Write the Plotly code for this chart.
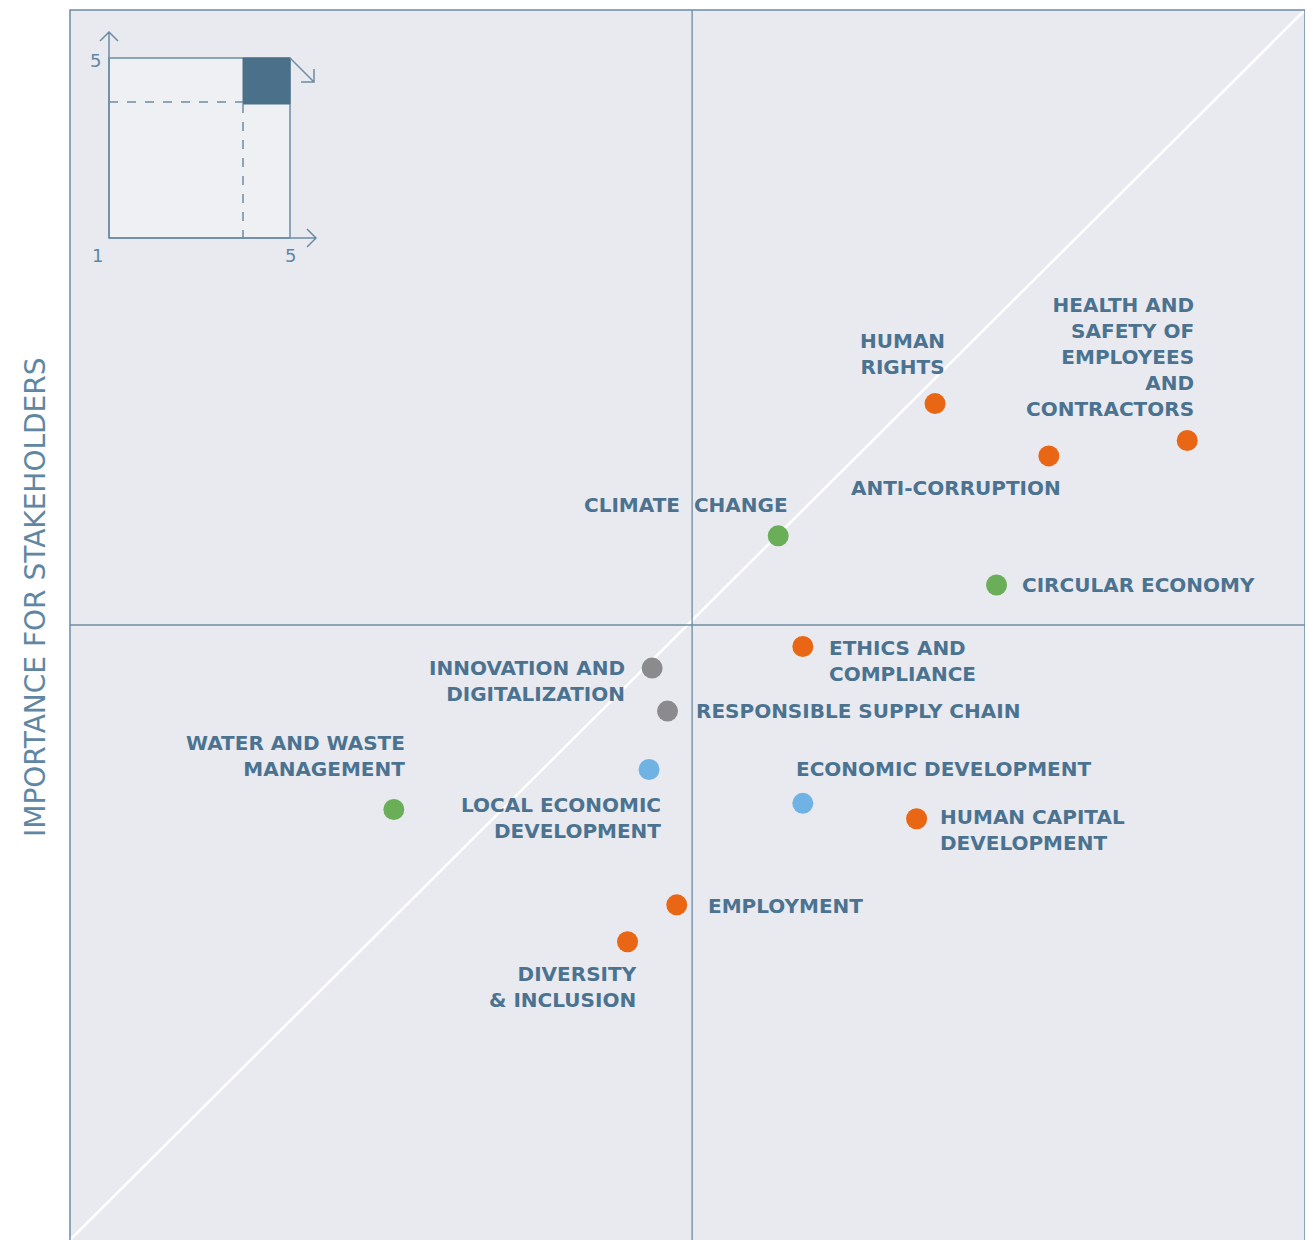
import plotly.graph_objects as go

# ---- data ----
topics = ["HUMAN RIGHTS", "HEALTH AND SAFETY OF EMPLOYEES AND CONTRACTORS", "ANTI-CORRUPTION",
          "CLIMATE CHANGE", "CIRCULAR ECONOMY", "ETHICS AND COMPLIANCE",
          "INNOVATION AND DIGITALIZATION", "RESPONSIBLE SUPPLY CHAIN",
          "LOCAL ECONOMIC DEVELOPMENT", "ECONOMIC DEVELOPMENT", "WATER AND WASTE MANAGEMENT",
          "HUMAN CAPITAL DEVELOPMENT", "EMPLOYMENT", "DIVERSITY & INCLUSION"]
labels = ["HUMAN<br>RIGHTS", "HEALTH AND<br>SAFETY OF<br>EMPLOYEES<br>AND<br>CONTRACTORS",
          "ANTI-CORRUPTION", "CLIMATE  CHANGE", "CIRCULAR ECONOMY", "ETHICS AND<br>COMPLIANCE",
          "INNOVATION AND<br>DIGITALIZATION", "RESPONSIBLE SUPPLY CHAIN",
          "LOCAL ECONOMIC<br>DEVELOPMENT", "ECONOMIC DEVELOPMENT", "WATER AND WASTE<br>MANAGEMENT",
          "HUMAN CAPITAL<br>DEVELOPMENT", "EMPLOYMENT", "DIVERSITY<br>& INCLUSION"]
importance_company = [3.79, 4.61, 4.16, 3.28, 3.99, 3.36, 2.87, 2.92, 2.86, 3.36, 2.03, 3.73, 2.95, 2.79]
importance_stakeholders = [3.72, 3.60, 3.55, 3.29, 3.13, 2.93, 2.86, 2.72, 2.53, 2.42, 2.40, 2.37, 2.09, 1.97]
groups = ["social", "social", "social", "env", "env", "social", "digital", "digital",
          "economic", "economic", "env", "social", "social", "social"]
group_colors = {"social": "#e96614", "env": "#6aae57", "digital": "#8b8b8d", "economic": "#71b2e4"}

# label placement: (xanchor, yanchor, xshift, yshift, align)
label_pos = [
    ("center", "bottom", -33, 23, "center"),
    ("right", "bottom", 9, 18, "right"),
    ("center", "top", -93, -18, "center"),
    ("right", "bottom", 12, 17, "right"),
    ("left", "middle", 23, 0, "left"),
    ("left", "top", 24, 13, "left"),
    ("right", "top", -25, 14, "right"),
    ("left", "middle", 26, 0, "left"),
    ("right", "top", 14, -21, "right"),
    ("left", "bottom", -9, 20, "left"),
    ("right", "bottom", 13, 27, "right"),
    ("left", "top", 21, 16, "left"),
    ("left", "middle", 29, -1, "left"),
    ("right", "top", 11, -18, "right"),
]

XR = [0.977, 4.993]
YR = [1.0, 5.0]
LINE = "#6c8ca3"
TEXT = "#4b7390"
LIGHT = "#5f87a3"
LABEL_FONT = "DejaVu Sans"

fig = go.Figure()
fig.add_trace(go.Scatter(
    x=importance_company, y=importance_stakeholders, mode="markers",
    marker=dict(size=21, color=[group_colors[g] for g in groups], line=dict(width=0)),
    text=topics, hoverinfo="text", showlegend=False))

for i, lab in enumerate(labels):
    xa, ya, xs, ys, al = label_pos[i]
    fig.add_annotation(x=importance_company[i], y=importance_stakeholders[i], text=lab,
                       showarrow=False, xanchor=xa, yanchor=ya, xshift=xs, yshift=ys, align=al,
                       font=dict(family=LABEL_FONT, size=20, color=TEXT, weight="bold"))

# screenshot-pixel -> paper helpers for decorative elements
L, R, T, B = 70, 1305, 10, 1240
def px(x):
    return (x - L) / (R - L)
def py(y):
    return (B - y) / (B - T)

shapes = []
# diagonal
shapes.append(dict(type="line", xref="paper", yref="paper", x0=0, y0=0, x1=1, y1=1,
                   line=dict(color="white", width=2.5), layer="below"))
# quadrant lines
shapes.append(dict(type="line", xref="x", yref="paper", x0=3, x1=3, y0=0, y1=1, line=dict(color=LINE, width=1.3)))
shapes.append(dict(type="line", xref="paper", yref="y", x0=0, x1=1, y0=3, y1=3, line=dict(color=LINE, width=1.3)))
# border (left, top, right)
shapes.append(dict(type="path", xref="paper", yref="paper", path="M 0,0 L 0,1 L 1,1 L 1,0",
                   line=dict(color=LINE, width=1.5)))

# inset
def P(x, y):
    return f"{px(x)},{py(y)}"
shapes.append(dict(type="rect", xref="paper", yref="paper", x0=px(109), x1=px(290), y0=py(238), y1=py(58),
                   fillcolor="#eef0f4", line=dict(color=LINE, width=1.5)))
shapes.append(dict(type="rect", xref="paper", yref="paper", x0=px(243), x1=px(290), y0=py(104), y1=py(58),
                   fillcolor="#4a7189", line=dict(color="#4a7189", width=1)))
shapes.append(dict(type="line", xref="paper", yref="paper", x0=px(109), x1=px(243), y0=py(102), y1=py(102),
                   line=dict(color=LINE, width=1.5, dash="dash")))
shapes.append(dict(type="line", xref="paper", yref="paper", x0=px(243), x1=px(243), y0=py(104), y1=py(238),
                   line=dict(color=LINE, width=1.5, dash="dash")))
# axes arrows
shapes.append(dict(type="path", xref="paper", yref="paper",
                   path=f"M {P(109,238)} L {P(109,32)} M {P(100,41)} L {P(109,32)} L {P(118,41)}",
                   line=dict(color=LINE, width=1.5)))
shapes.append(dict(type="path", xref="paper", yref="paper",
                   path=f"M {P(109,238)} L {P(316,238)} M {P(307,229)} L {P(316,238)} L {P(307,247)}",
                   line=dict(color=LINE, width=1.5)))
shapes.append(dict(type="path", xref="paper", yref="paper",
                   path=f"M {P(290,58)} L {P(314,82)} M {P(314,69)} L {P(314,82)} L {P(301,82)}",
                   line=dict(color=LINE, width=1.5)))

for txt, x, y in [("5", 95, 60), ("1", 97, 255), ("5", 290, 255)]:
    fig.add_annotation(xref="paper", yref="paper", x=px(x), y=py(y), text=txt, showarrow=False,
                       xanchor="center", yanchor="middle",
                       font=dict(family=LABEL_FONT, size=18, color=LIGHT))

# y-axis title
fig.add_annotation(xref="paper", yref="paper", x=px(35), y=py(597), text="IMPORTANCE FOR STAKEHOLDERS",
                   textangle=-90, showarrow=False, xanchor="center", yanchor="middle",
                   font=dict(family=LABEL_FONT, size=28, color=LIGHT))

# page has an 8px body offset: plot area lands at screenshot x 70..1305, y 10..1240
OFF = 8
W, H = 1305, 1232
fig.update_layout(
    width=W, height=H, margin=dict(l=L - OFF, r=W - (R - OFF), t=T - OFF, b=H - (B - OFF)),
    paper_bgcolor="white", plot_bgcolor="#e9eaf0", shapes=shapes,
    xaxis=dict(range=XR, showgrid=False, zeroline=False, showticklabels=False, ticks=""),
    yaxis=dict(range=YR, showgrid=False, zeroline=False, showticklabels=False, ticks=""),
)
fig.write_html("out.html")
